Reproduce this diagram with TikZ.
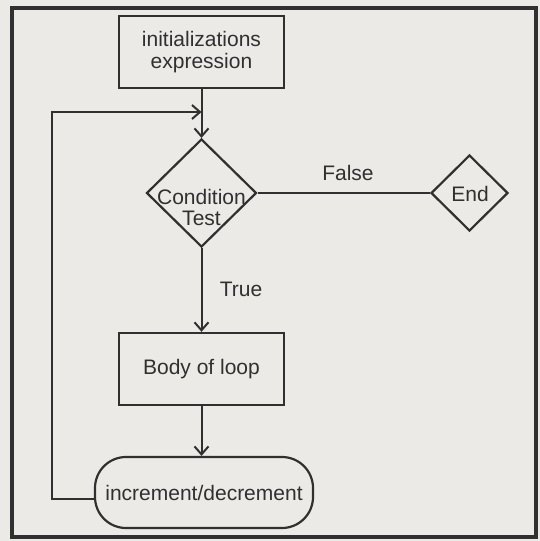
\documentclass[tikz,border=0pt]{standalone}
\usepackage{fontspec}
\setmainfont{Liberation Sans}
\usetikzlibrary{shapes.geometric,arrows.meta}
\definecolor{paper}{RGB}{236,234,230}
\definecolor{ink}{RGB}{48,48,48}
\begin{document}
\begin{tikzpicture}[x=1pt,y=-1pt,
  every node/.style={text=ink,font=\fontsize{21}{23}\selectfont},
  box/.style={draw=ink,line width=2.4pt,rectangle,minimum width=165pt,minimum height=72pt,inner sep=0pt,align=center},
  decision/.style={draw=ink,line width=2.2pt,diamond,inner sep=0pt},
  pill/.style={draw=ink,line width=2.2pt,rectangle,rounded corners=31pt,minimum width=218pt,minimum height=71pt,inner sep=0pt},
  flow/.style={draw=ink,line width=2pt},
  arr/.style={flow,-{Straight Barb[length=8pt,width=14pt,line width=2pt]}},
  lbl/.style={inner sep=0pt}]
  % paper and outer frame
  \fill[paper] (0,0) rectangle (540,541);
  \useasboundingbox (0,0) rectangle (540,541);
  \draw[ink,line width=3.5pt] (12,8) rectangle (536,537);

  % blocks
  \node[box] (init) at (201.5,52) {initializations\\[-1pt]expression};
  \node[decision,minimum width=110pt,minimum height=108pt] (cond) at (201.5,193) {};
  \node[lbl,align=center,font=\fontsize{21}{21}\selectfont] (condtext) at (201.5,207) {Condition\\Test};
  \node[decision,minimum width=77pt,minimum height=76pt] (end) at (469.5,193) {};
  \node[lbl] (endtext) at (470,194) {End};
  \node[box] (body) at (201.5,369) {Body of loop};
  \node[pill] (inc) at (204,492.5) {increment/decrement};

  % branch labels
  \node[lbl] (false) at (348,173) {False};
  \node[lbl] (true) at (241,289) {True};

  % connectors
  \coordinate (merge) at (201.5,112);
  \coordinate (rail) at (52,0);
  \draw[arr] (init.south) -- (cond.north);
  \draw[flow] (cond.east) -- (end.west);
  \draw[arr] (cond.south) -- (body.north);
  \draw[arr] (body.south) -- (body.south |- inc.north);
  \draw[arr] ([yshift=-6pt]inc.west) -| (rail |- merge) -- (merge);
\end{tikzpicture}
\end{document}
